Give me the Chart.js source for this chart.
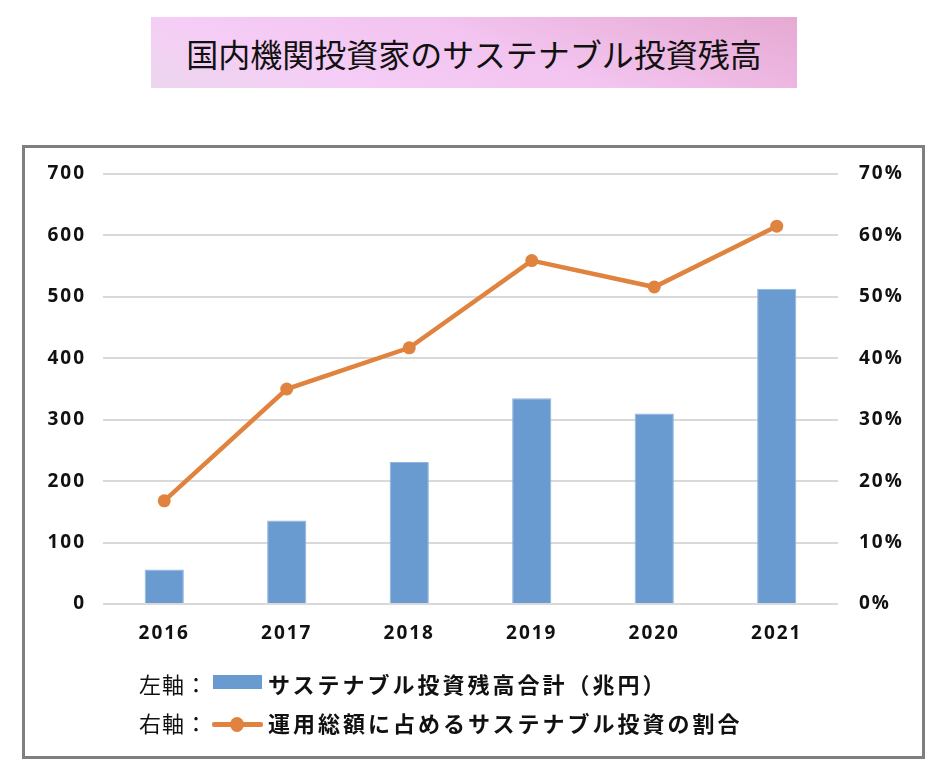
<!DOCTYPE html>
<html>
<head>
<meta charset="utf-8">
<script src="https://cdn.jsdelivr.net/npm/chart.js@4"></script>
<style>
  html, body { margin:0; padding:0; background:#fff; }
  body { width:944px; height:772px; position:relative; overflow:hidden; font-family:"Noto Sans CJK JP", sans-serif; }
  #title { position:absolute; left:151px; top:17px; width:646px; height:71px;
    background: linear-gradient(200deg, #e6a9d2 0%, #f2c4ef 45%, #f5cdf6 75%, #ecd6ee 100%);
    display:flex; align-items:center; justify-content:center; font-size:32px; color:#111; }
  #frame { position:absolute; left:22px; top:145px; width:897px; height:608px; border:3px solid #7f7f7f; }
  #wrap { position:absolute; left:0; top:0; width:944px; height:772px; }
  .leg { position:absolute; left:139px; height:30px; display:flex; align-items:center; font-size:22px; color:#111; white-space:nowrap; }
  .leg .pre { width:74px; letter-spacing:1px; }
  .leg .lab { font-weight:700; letter-spacing:3px; margin-left:55px; }
  .sw { position:absolute; }
</style>
</head>
<body>
<div id="title">国内機関投資家のサステナブル投資残高</div>
<div id="frame"></div>
<div id="wrap"><canvas id="c" width="944" height="772"></canvas></div>
<div class="leg" id="leg1" style="top:668px;"><span class="pre">左軸：</span><span class="lab">サステナブル投資残高合計（兆円）</span></div>
<div class="leg" id="leg2" style="top:707px;"><span class="pre">右軸：</span><span class="lab">運用総額に占めるサステナブル投資の割合</span></div>
<div class="sw" style="left:213px; top:675px; width:49px; height:14px; background:#6a9bd0;"></div>
<div class="sw" style="left:212px; top:722px; width:51px; height:5px; background:#e0833f; border-radius:2px;"></div>
<div class="sw" style="left:230px; top:717px; width:14px; height:15px; background:#e0833f; border-radius:50%;"></div>
<script>
const categories = ["2016", "2017", "2018", "2019", "2020", "2021"];
const investmentBalance = [56, 136, 231, 335, 310, 513];      // 兆円 (left axis)
const shareOfTotal = [16.8, 35.0, 41.7, 55.9, 51.6, 61.5];    // % (right axis)
const leftTicks = [0, 100, 200, 300, 400, 500, 600, 700];
const rightTicks = [0, 10, 20, 30, 40, 50, 60, 70];

const spacingPlugin = {
  id: 'spacing',
  beforeLayout(chart) { chart.ctx.letterSpacing = '2px'; },
  beforeDraw(chart) { chart.ctx.letterSpacing = '2px'; }
};

const tickFont = { family: 'Open Sans', size: 19, weight: 'bold' };

new Chart(document.getElementById('c'), {
  data: {
    labels: categories,
    datasets: [
      {
        type: 'line',
        label: '運用総額に占めるサステナブル投資の割合',
        data: shareOfTotal,
        yAxisID: 'y1',
        borderColor: '#e0833f',
        backgroundColor: '#e0833f',
        borderWidth: 4.5,
        pointRadius: 6.5,
        pointHoverRadius: 6.5,
        pointBorderWidth: 0,
        tension: 0,
        order: 0
      },
      {
        type: 'bar',
        label: 'サステナブル投資残高合計（兆円）',
        data: investmentBalance,
        yAxisID: 'y',
        backgroundColor: '#6a9bd0',
        borderColor: '#8fb5de',
        borderWidth: 1,
        categoryPercentage: 1,
        barPercentage: 0.32,
        order: 1
      }
    ]
  },
  options: {
    responsive: false,
    animation: false,
    layout: { padding: { left: 25, right: 26, top: 174, bottom: 128 } },
    plugins: { legend: { display: false }, tooltip: { enabled: false } },
    scales: {
      x: {
        grid: { display: false },
        border: { display: false },
        ticks: { color: '#111', padding: 10, font: tickFont },
        afterFit(s) { s.height = 40; }
      },
      y: {
        position: 'left',
        min: 0, max: 700,
        afterBuildTicks(s) { s.ticks = leftTicks.map(v => ({ value: v })); },
        grid: { color: '#d9d9d9', lineWidth: 2, drawTicks: false },
        border: { display: false },
        ticks: { color: '#111', padding: 17, font: tickFont },
        afterFit(s) { s.width = 78; }
      },
      y1: {
        position: 'right',
        min: 0, max: 70,
        afterBuildTicks(s) { s.ticks = rightTicks.map(v => ({ value: v })); },
        grid: { display: false, drawTicks: false },
        border: { display: false },
        ticks: { color: '#111', padding: 21, font: tickFont, callback: v => v + '%' },
        afterFit(s) { s.width = 80; }
      }
    }
  },
  plugins: [spacingPlugin]
});
</script>
</body>
</html>
